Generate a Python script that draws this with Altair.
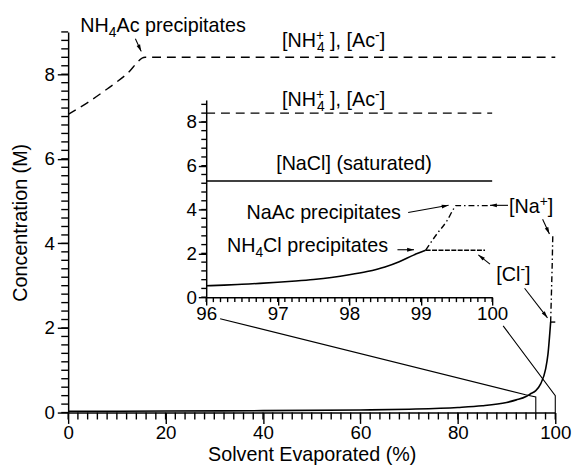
import math
import altair as alt
import pandas as pd

FONT = "Liberation Sans"
W, H = 494, 386
X_DOMAIN = [0, 100]
Y_DOMAIN = [0, 9]
IN_X_DOMAIN = [96, 100]
IN_Y_DOMAIN = [0, 9]
IN_X_RANGE = [140, 430]
IN_Y_RANGE = [269, 69]
PX_X = W / (X_DOMAIN[1] - X_DOMAIN[0])
PX_Y = H / (Y_DOMAIN[1] - Y_DOMAIN[0])
FS_TICK = 19
FS = 20
FS_SMALL = 14
TICK_COLOR = "black"

# ---------------- data ----------------
nh4_x = [0, 4, 8, 12, 15.8, 100]
nh4_y = [7.05, 7.33, 7.65, 8.0, 8.4, 8.4]
cl_x = [0, 20, 40, 60, 70, 80, 85, 90, 92, 94, 95, 96, 97, 98, 98.5, 99.05]
cl_y = [0.03, 0.035, 0.045, 0.06, 0.08, 0.12, 0.16, 0.24, 0.3, 0.38, 0.45, 0.52, 0.68, 1.02, 1.38, 2.14]
clflat_x = [99.05, 100]
clflat_y = [2.14, 2.14]
na_x = [99.05, 99.23, 99.37, 99.46, 99.49, 100]
na_y = [2.14, 2.9, 3.5, 4.03, 4.18, 4.18]

in_nh4_x = [96, 100]
in_nh4_y = [8.4, 8.4]
in_nacl_x = [96, 100]
in_nacl_y = [5.3, 5.3]
in_cl_x = [96, 96.25, 96.5, 96.75, 97, 97.25, 97.5, 97.75, 98, 98.25, 98.5, 98.7, 98.9, 99.07]
in_cl_y = [0.52, 0.55, 0.59, 0.63, 0.68, 0.74, 0.81, 0.9, 1.02, 1.17, 1.38, 1.62, 1.92, 2.14]
in_clflat_x = [99.07, 99.9]
in_clflat_y = [2.14, 2.14]
in_na_x = [99.07, 99.23, 99.37, 99.46, 99.49, 99.95]
in_na_y = [2.15, 2.9, 3.5, 4.03, 4.18, 4.18]

main_x_ticks = [0, 20, 40, 60, 80, 100]
main_x_minor = [2 * i for i in range(51)]
main_y_ticks = [0, 2, 4, 6, 8]
main_y_minor = [round(0.2 * i, 1) for i in range(46)]
in_x_ticks = [96, 97, 98, 99, 100]
in_x_minor = [round(96 + 0.1 * i, 1) for i in range(41)]
in_y_ticks = [0, 2, 4, 6, 8]
in_y_minor = [round(0.4 * i, 1) for i in range(23)]

label_x0 = [2.5, 43.9, 43.9, 42.7, 36.6, 32.6, 90.5, 87.9]
label_y0 = [8.99, 8.65, 7.24, 5.74, 4.57, 3.80, 4.73, 3.11]
label_parts = [
    [("NH", "n"), ("4", "sub"), ("Ac precipitates", "n")],
    [("[NH", "n"), ("+|4", "stack"), (" ], [Ac", "n"), ("-", "sup"), ("]", "n")],
    [("[NH", "n"), ("+|4", "stack"), (" ], [Ac", "n"), ("-", "sup"), ("]", "n")],
    [("[NaCl] (saturated)", "n")],
    [("NaAc precipitates", "n")],
    [("NH", "n"), ("4", "sub"), ("Cl precipitates", "n")],
    [("[Na", "n"), ("+", "sup"), ("]", "n")],
    [("[Cl", "n"), ("-", "sup"), ("]", "n")],
]

arrow_x1 = [13.8, 69.8, 67.6, 90.3, 97.4, 86.6, 93.7]
arrow_y1 = [8.84, 4.73, 3.85, 4.90, 4.57, 3.51, 2.94]
arrow_x2 = [15.0, 78.1, 71.0, 86.6, 98.8, 84.2, 98.4]
arrow_y2 = [8.54, 4.90, 3.85, 4.90, 4.22, 3.73, 2.24]

conn_id = [1, 1, 1, 1, 2, 2, 2]
conn_x = [31.2, 93.9, 96, 96, 89.3, 100, 100]
conn_y = [2.22, 0.42, 0.37, 0, 2.05, 0.40, 0]

CW = {" ": 278, "[": 278, "]": 278, "N": 722, "H": 722, "A": 667, "C": 722,
      "a": 556, "c": 500, "p": 556, "r": 333, "e": 556, "i": 222, "t": 278,
      "s": 500, "l": 222, "(": 333, ")": 333, "u": 556, "d": 556, ",": 278,
      "-": 333, "+": 584, "4": 556}


def tw(s, size):
    return sum(CW.get(ch, 556) for ch in s) / 1000.0 * size


BLACK = "black"
common_axis = dict(grid=False, domainColor=BLACK, tickColor=BLACK, labelColor=BLACK,
                   labelFont=FONT, labelFontSize=FS_TICK, domainWidth=1.5, tickWidth=1.4,
                   labelFlush=False, labelOverlap=False, titleFont=FONT,
                   titleFontSize=FS, titleFontWeight="normal", titleColor=BLACK)

ax_main_x = alt.Axis(orient="bottom", values=main_x_ticks, tickSize=11, labelPadding=0,
                     title="Solvent Evaporated (%)", titlePadding=3, **common_axis)
ax_main_y = alt.Axis(orient="left", values=main_y_ticks, tickSize=11, labelPadding=3,
                     title="Concentration (M)", titlePadding=14, **common_axis)
ax_in_x = alt.Axis(orient="bottom", offset=IN_Y_RANGE[0] - H, values=in_x_ticks,
                   tickSize=8, labelPadding=0, title="", **common_axis)
ax_in_y = alt.Axis(orient="left", offset=-IN_X_RANGE[0], values=in_y_ticks,
                   tickSize=8, labelPadding=2, title="", **common_axis)


def sx(system):
    if system == "main":
        return alt.Scale(domain=X_DOMAIN)
    return alt.Scale(domain=IN_X_DOMAIN, range=IN_X_RANGE)


def sy(system):
    if system == "main":
        return alt.Scale(domain=Y_DOMAIN)
    return alt.Scale(domain=IN_Y_DOMAIN, range=IN_Y_RANGE)


def line_layer(xs, ys, system, dash=None, width=1.6, xaxis=None, yaxis=None,
               interp="linear"):
    df = pd.DataFrame({"x": xs, "y": ys, "i": list(range(len(xs)))})
    kw = dict(color=BLACK, strokeWidth=width, interpolate=interp)
    if dash:
        kw["strokeDash"] = dash
    return alt.Chart(df).mark_line(**kw).encode(
        x=alt.X("x:Q", scale=sx(system), axis=xaxis),
        y=alt.Y("y:Q", scale=sy(system), axis=yaxis),
        order="i:Q",
    )


def tick_layer(values, system, along, length_px):
    """minor ticks drawn as short rules; 'along' is the axis they sit on"""
    n = len(values)
    if along == "x":
        per = PX_Y if system == "main" else (IN_Y_RANGE[0] - IN_Y_RANGE[1]) / 9.0
        df = pd.DataFrame({"a": values, "b": [0.0] * n, "b2": [-length_px / per] * n})
        enc = dict(x=alt.X("a:Q", scale=sx(system), axis=None),
                   y=alt.Y("b:Q", scale=sy(system), axis=None), y2="b2:Q")
    else:
        lo = X_DOMAIN[0] if system == "main" else IN_X_DOMAIN[0]
        per = PX_X if system == "main" else (IN_X_RANGE[1] - IN_X_RANGE[0]) / 4.0
        df = pd.DataFrame({"a": values, "b": [float(lo)] * n,
                           "b2": [lo - length_px / per] * n})
        enc = dict(y=alt.Y("a:Q", scale=sy(system), axis=None),
                   x=alt.X("b:Q", scale=sx(system), axis=None), x2="b2:Q")
    return alt.Chart(df).mark_rule(color=TICK_COLOR, strokeWidth=1.4).encode(**enc)


rows = []


def put(text, x0, cur, y, size):
    stripped = text.lstrip(" ")
    lead = tw(text[: len(text) - len(stripped)], size)
    if stripped:
        rows.append(dict(text=stripped, x=x0 + (cur + lead) / PX_X, y=y, size=size))
    return tw(text, size)


for x0, y0, parts in zip(label_x0, label_y0, label_parts):
    cur = 0.0
    for text, kind in parts:
        if kind == "n":
            cur += put(text, x0, cur, y0, FS)
        elif kind == "sub":
            cur += put(text, x0, cur, y0 - 5 / PX_Y, FS_SMALL)
        elif kind == "sup":
            cur += put(text, x0, cur, y0 + 7 / PX_Y, FS_SMALL)
        else:
            up, down = text.split("|")
            a = put(up, x0, cur, y0 + 7 / PX_Y, FS_SMALL)
            b = put(down, x0, cur + 1, y0 - 5 / PX_Y, FS_SMALL)
            cur += max(a, b + 1)
text_df = pd.DataFrame(rows)

arrow_df = pd.DataFrame({"x": arrow_x1, "y": arrow_y1, "x2": arrow_x2, "y2": arrow_y2})
arrow_df["angle"] = [
    math.degrees(math.atan2((b - a) * PX_X, (d - c) * PX_Y)) % 360
    for a, b, c, d in zip(arrow_x1, arrow_x2, arrow_y1, arrow_y2)
]
conn_df = pd.DataFrame({"x": conn_x, "y": conn_y, "g": conn_id, "i": list(range(len(conn_x)))})

conn = alt.Chart(conn_df).mark_line(color=BLACK, strokeWidth=1.1).encode(
    x=alt.X("x:Q", scale=sx("main"), axis=None),
    y=alt.Y("y:Q", scale=sy("main"), axis=None),
    detail="g:N", order="i:Q",
)

main_nh4 = line_layer(nh4_x, nh4_y, "main", dash=[9, 6], width=1.4, interp="monotone")
main_cl = line_layer(cl_x, cl_y, "main", width=1.6, xaxis=ax_main_x, yaxis=ax_main_y,
                     interp="monotone")
main_clflat = line_layer(clflat_x, clflat_y, "main", dash=[5, 1.5], width=1.4)
main_na = line_layer(na_x, na_y, "main", dash=[6, 3, 1.5, 3], width=1.4)

in_nh4 = line_layer(in_nh4_x, in_nh4_y, "inset", dash=[9, 6], width=1.4)
in_nacl = line_layer(in_nacl_x, in_nacl_y, "inset", width=1.4)
in_cl = line_layer(in_cl_x, in_cl_y, "inset", width=1.6, xaxis=ax_in_x, yaxis=ax_in_y,
                   interp="monotone")
in_clflat = line_layer(in_clflat_x, in_clflat_y, "inset", dash=[5, 1.5], width=1.4)
in_na = line_layer(in_na_x, in_na_y, "inset", dash=[6, 3, 1.5, 3], width=1.4,
                   interp="monotone")

tk1 = tick_layer(main_x_minor, "main", "x", 7)
tk2 = tick_layer(main_y_minor, "main", "y", 7)
tk3 = tick_layer(in_x_minor, "inset", "x", 5)
tk4 = tick_layer(in_y_minor, "inset", "y", 5)

arrow_lines = alt.Chart(arrow_df).mark_rule(color=BLACK, strokeWidth=1.1).encode(
    x=alt.X("x:Q", scale=sx("main"), axis=None),
    y=alt.Y("y:Q", scale=sy("main"), axis=None),
    x2="x2:Q", y2="y2:Q",
)
arrow_heads = alt.Chart(arrow_df).mark_point(
    shape="M0,0L-0.55,2L0.55,2Z", filled=True, color=BLACK, opacity=1, size=49,
    strokeWidth=0,
).encode(
    x=alt.X("x2:Q", scale=sx("main"), axis=None),
    y=alt.Y("y2:Q", scale=sy("main"), axis=None),
    angle=alt.Angle("angle:Q", scale=None),
)

texts = alt.Chart(text_df).mark_text(
    align="left", baseline="alphabetic", font=FONT, color=BLACK
).encode(
    x=alt.X("x:Q", scale=sx("main"), axis=None),
    y=alt.Y("y:Q", scale=sy("main"), axis=None),
    text="text:N",
    size=alt.Size("size:Q", scale=None),
)

chart = alt.layer(
    tk1, tk2, tk3, tk4,
    conn, main_nh4, main_cl, main_clflat, main_na,
    in_nh4, in_nacl, in_cl, in_clflat, in_na,
    arrow_lines, arrow_heads, texts,
).resolve_scale(x="independent", y="independent").properties(
    width=W, height=H,
    autosize=alt.AutoSizeParams(type="none"),
    padding={"left": 61, "top": 21, "right": 20, "bottom": 57},
    background="white",
).configure_view(strokeWidth=0)

chart.save("out.html", embed_options={"renderer": "svg", "actions": False})
